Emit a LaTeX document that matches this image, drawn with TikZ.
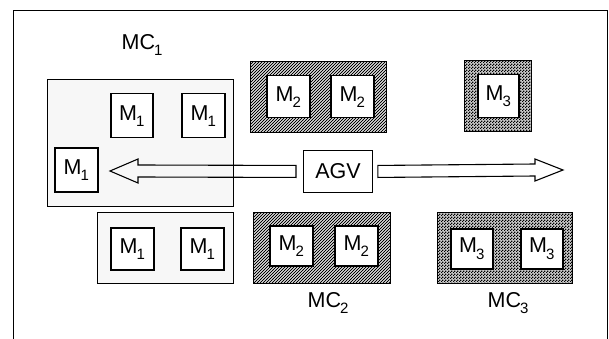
\documentclass[tikz,border=0pt]{standalone}
\usepackage{fontspec}
\setmainfont{Liberation Sans}
\usetikzlibrary{patterns,positioning,calc}

\pgfdeclarepatternformonly{finehatch}{\pgfqpoint{-1pt}{-1pt}}{\pgfqpoint{4pt}{4pt}}{\pgfqpoint{3pt}{3pt}}{
  \pgfsetlinewidth{0.75pt}
  \pgfpathmoveto{\pgfqpoint{0pt}{0pt}}
  \pgfpathlineto{\pgfqpoint{3.1pt}{3.1pt}}
  \pgfusepath{stroke}}
\pgfdeclarepatternformonly{finecheck}{\pgfpointorigin}{\pgfqpoint{3pt}{3pt}}{\pgfqpoint{3pt}{3pt}}{
  \pgfpathrectangle{\pgfpointorigin}{\pgfqpoint{1.5pt}{1.5pt}}
  \pgfpathrectangle{\pgfqpoint{1.5pt}{1.5pt}}{\pgfqpoint{1.5pt}{1.5pt}}
  \pgfusepath{fill}}

\newcommand{\msub}[1]{\kern-1pt\raisebox{-0.55ex}{\fontsize{15}{15}\selectfont #1}}

\begin{document}
\begin{tikzpicture}[x=1pt, y=-1pt,
  font=\fontsize{21.5}{21.5}\selectfont,
  cell/.style={draw, line width=1.2pt, anchor=north west, inner sep=0pt},
  lightcell/.style={cell, fill=gray!6},
  hatchcell/.style={cell, pattern=finehatch},
  dotcell/.style={cell, preaction={fill=gray!40}, pattern=finecheck},
  mach/.style={draw, line width=1.5pt, fill=white, anchor=north west, inner sep=0pt},
  lbl/.style={inner sep=2pt},
  arrw/.style={line width=1.1pt, line join=miter}
]
\useasboundingbox (0,0) rectangle (609,339);
% frame
\draw[line width=0.8pt] (13,339) -- (13,10) -- (607,10) -- (607,339);

% machine cells
\node[lightcell, minimum width=186pt, minimum height=127pt] (mc1a) at (47,79) {};
\node[lightcell, minimum width=136pt, minimum height=71pt] (mc1b) at (97,212) {};
\node[hatchcell, minimum width=136pt, minimum height=71pt] (mc2a) at (250,61) {};
\node[hatchcell, minimum width=137pt, minimum height=71pt] (mc2b) at (253,212) {};
\node[dotcell, minimum width=67pt, minimum height=71pt] (mc3a) at (464,60) {};
\node[dotcell, minimum width=135pt, minimum height=71pt] (mc3b) at (437,212) {};

% machines
\node[mach, minimum width=42pt, minimum height=44pt] (m1a) at (110,93) {M\msub{1}};
\node[mach, minimum width=43pt, minimum height=44pt] (m1b) at (181,93) {M\msub{1}};
\node[mach, minimum width=43pt, minimum height=44pt] (m1c) at (54,147) {M\msub{1}};
\node[mach, minimum width=43pt, minimum height=42pt] (m1d) at (110,227) {M\msub{1}};
\node[mach, minimum width=43pt, minimum height=42pt] (m1e) at (180,227) {M\msub{1}};
\node[mach, minimum width=43pt, minimum height=42pt] (m2a) at (266,75) {M\msub{2}};
\node[mach, minimum width=43pt, minimum height=42pt] (m2b) at (330,75) {M\msub{2}};
\node[mach, minimum width=43pt, minimum height=40pt] (m2c) at (269,225) {M\msub{2}};
\node[mach, minimum width=43pt, minimum height=40pt] (m2d) at (334,225) {M\msub{2}};
\node[mach, minimum width=41pt, minimum height=43pt] (m3a) at (477,74) {M\msub{3}};
\node[mach, minimum width=42pt, minimum height=40pt] (m3b) at (450,228) {M\msub{3}};
\node[mach, minimum width=42pt, minimum height=40pt] (m3c) at (520,228) {M\msub{3}};

% labels
\node[lbl] (mc1lbl) at (142,45) {MC\msub{1}};
\node[lbl, below=6pt of mc2b, xshift=6pt] (mc2lbl) {MC\msub{2}};
\node[lbl, below=6pt of mc3b, xshift=3pt] (mc3lbl) {MC\msub{3}};

% vehicle
\node[mach, line width=0.9pt, minimum width=69pt, minimum height=42pt] (agv) at (303,150) {AGV};
\coordinate (tipL) at (110,171);
\coordinate (tipR) at (563,170);
\draw[arrw] ($(agv.west)+(-7,-6)$) -- ($(tipL)+(28,-6)$) -- ($(tipL)+(28,-12)$) -- (tipL)
  -- ($(tipL)+(28,12)$) -- ($(tipL)+(28,6)$) -- ($(agv.west)+(-7,6)$) -- cycle;
\draw[arrw] ($(agv.east)+(5,-6)$) -- ($(tipR)+(-28,-6)$) -- ($(tipR)+(-28,-11)$) -- (tipR)
  -- ($(tipR)+(-28,11)$) -- ($(tipR)+(-28,6)$) -- ($(agv.east)+(5,6)$) -- cycle;
\end{tikzpicture}
\end{document}
